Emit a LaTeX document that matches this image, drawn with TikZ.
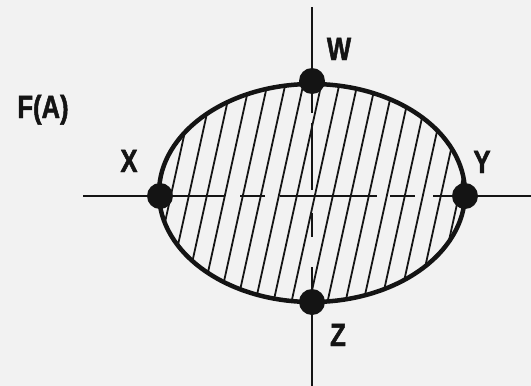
\documentclass[tikz,border=0pt]{standalone}
\usepackage{fontspec}
\newfontfamily\labfont[FakeStretch=0.8, FakeBold=1.5]{Liberation Sans Bold}
\definecolor{fond}{RGB}{242,242,242}
\definecolor{encre}{RGB}{20,20,20}
\tikzset{
  point/.style={circle, fill=encre, inner sep=0pt, minimum size=26pt},
  axe/.style={encre, line width=2.4pt},
  lettre/.style={anchor=base, text=encre, font=\labfont\fontsize{32}{32}\selectfont}
}
\begin{document}
\begin{tikzpicture}[x=1pt, y=-1pt]
        \fill[fond] (0,0) rectangle (531,386);
        \useasboundingbox (0,0) rectangle (531,386);

        % Hachures dans l'ellipse
        \begin{scope}
            \clip (312,193) ellipse (153pt and 109pt);
            \foreach \k in {-10,...,10}
                \draw[encre, line width=1.8pt] ({297+18*\k+0.22*120},75) -- ({297+18*\k-0.22*120},315);
        \end{scope}
        \draw[encre, line width=4.5pt] (312,193) ellipse (153pt and 109pt);

        % Axes en tirets a l'interieur
        \foreach \a/\b in {167/225, 240/265, 280/377, 390/415, 433/455}
            \draw[axe] (\a,196) -- (\b,196);
        \foreach \a/\b in {93/113, 123/190, 213/237, 267/290}
            \draw[axe] (312,\a) -- (312,\b);

        % Points
        \node[point] (W) at (312,81) {};
        \node[point] (X) at (160,196) {};
        \node[point] (Y) at (465,196) {};
        \node[point] (Z) at (312,302) {};

        % Axes a l'exterieur
        \coordinate (gauche) at (83,196);
        \coordinate (droite) at (531,196);
        \coordinate (haut) at (312,7);
        \coordinate (bas) at (312,386);
        \draw[axe] (gauche) -- (X);
        \draw[axe] (Y) -- (droite);
        \draw[axe] (haut) -- (W);
        \draw[axe] (Z) -- (bas);

        % Lettres
        \node[lettre] (lW) at (339,60) {W};
        \node[lettre] (lX) at (129,172) {X};
        \node[lettre] (lY) at (482,173) {Y};
        \node[lettre] (lZ) at (338,346) {Z};
        \node[lettre] (FA) at (43,118) {F(A)};
    \end{tikzpicture}
\end{document}
